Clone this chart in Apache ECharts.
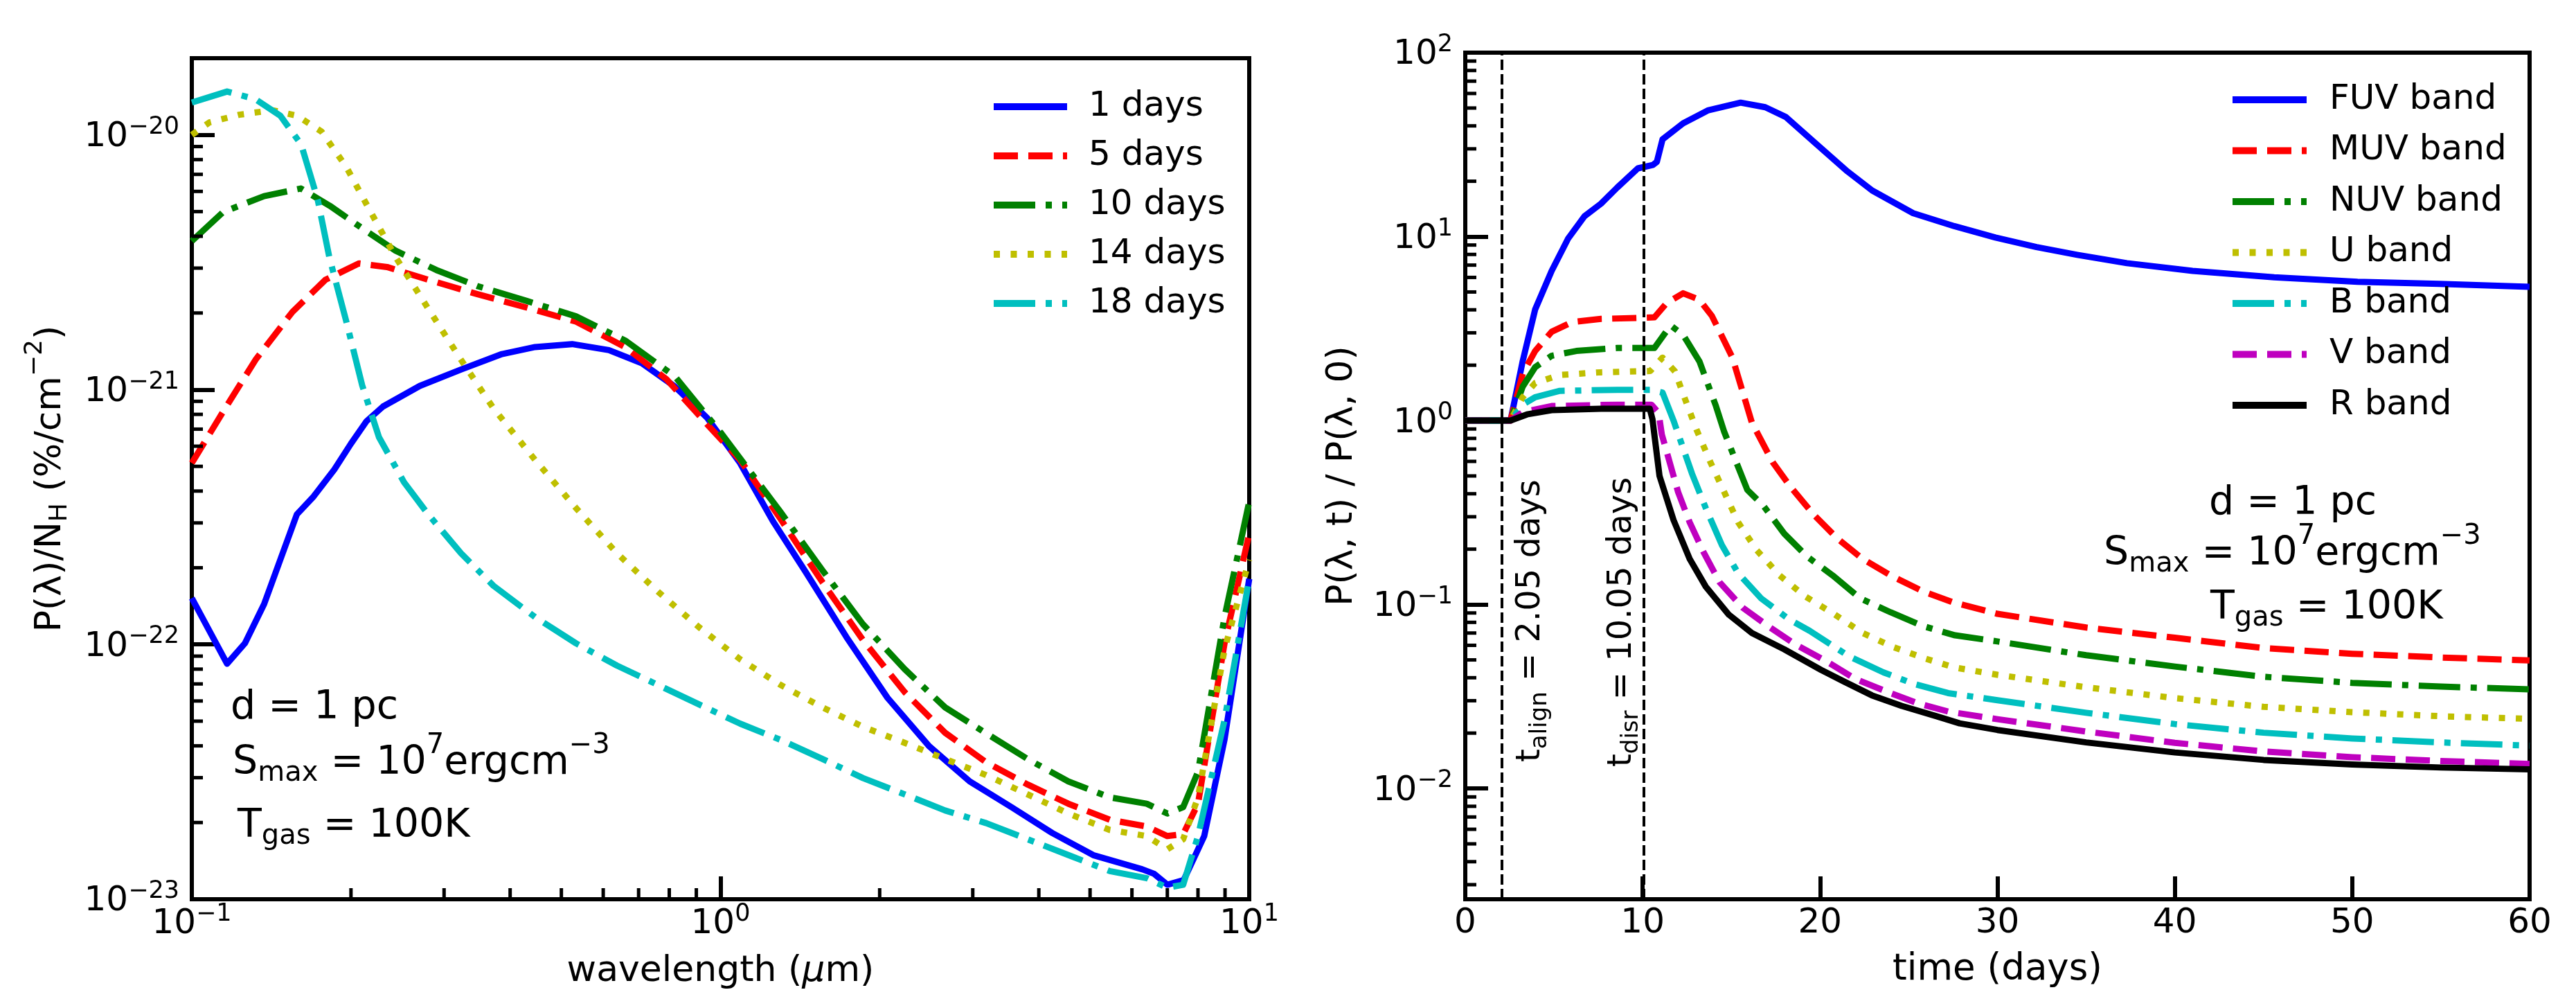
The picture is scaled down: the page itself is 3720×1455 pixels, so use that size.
<!DOCTYPE html>
<html>
<head>
<meta charset="utf-8">
<script src="https://cdn.jsdelivr.net/npm/echarts@6/dist/echarts.min.js"></script>
<style>
  html, body { margin: 0; padding: 0; background: #fff; }
  #main { width: 3720px; height: 1455px; }
</style>
</head>
<body>
<div id="main"></div>
<script>
// ---- left panel: P(lambda)/N_H (%/cm^-2) vs wavelength (um) ----
var wl1 = [0.1, 0.1166, 0.126, 0.137, 0.147, 0.158, 0.170, 0.186, 0.2, 0.214, 0.23, 0.27, 0.323, 0.386, 0.446, 0.524, 0.615, 0.71, 0.819, 0.944, 1.089, 1.256, 1.45, 1.73, 2.07, 2.48, 2.96, 3.55, 4.24, 5.07, 6.28, 6.6, 7.0, 7.52, 8.22, 8.98, 10];
var p1 = [1.52e-22, 8.4e-23, 1.01e-22, 1.44e-22, 2.15e-22, 3.24e-22, 3.81e-22, 4.86e-22, 6.14e-22, 7.52e-22, 8.59e-22, 1.035e-21, 1.2e-21, 1.38e-21, 1.47e-21, 1.51e-21, 1.43e-21, 1.27e-21, 1.03e-21, 7.74e-22, 5.15e-22, 3.05e-22, 1.92e-22, 1.07e-22, 6.17e-23, 3.99e-23, 2.9e-23, 2.3e-23, 1.82e-23, 1.49e-23, 1.31e-23, 1.26e-23, 1.14e-23, 1.19e-23, 1.77e-23, 4.23e-23, 1.81e-22];

var wl5 = [0.1, 0.1146, 0.132, 0.155, 0.179, 0.207, 0.234, 0.28, 0.347, 0.43, 0.533, 0.66, 0.79, 0.944, 1.089, 1.3, 1.56, 1.86, 2.23, 2.66, 3.18, 3.81, 4.55, 5.45, 6.4, 7.0, 7.5, 8.0, 8.98, 10];
var p5 = [5.15e-22, 8.2e-22, 1.31e-21, 2.02e-21, 2.7e-21, 3.13e-21, 3.03e-21, 2.7e-21, 2.37e-21, 2.1e-21, 1.85e-21, 1.47e-21, 1.1e-21, 7.3e-22, 5.3e-22, 3.1e-22, 1.75e-22, 1.04e-22, 6.5e-23, 4.5e-23, 3.45e-23, 2.82e-23, 2.37e-23, 2.05e-23, 1.93e-23, 1.77e-23, 1.8e-23, 2.37e-23, 1.01e-22, 2.72e-22];

var wl10 = [0.1, 0.1146, 0.137, 0.1608, 0.1824, 0.21, 0.243, 0.29, 0.347, 0.43, 0.533, 0.66, 0.819, 1.0, 1.3, 1.56, 1.86, 2.23, 2.66, 3.18, 3.81, 4.55, 5.45, 6.4, 7.0, 7.5, 8.0, 8.98, 10];
var p10 = [3.83e-21, 4.98e-21, 5.75e-21, 6.16e-21, 5.27e-21, 4.3e-21, 3.51e-21, 2.95e-21, 2.55e-21, 2.23e-21, 1.94e-21, 1.56e-21, 1.13e-21, 6.8e-22, 3.3e-22, 1.95e-22, 1.2e-22, 8.0e-23, 5.66e-23, 4.48e-23, 3.55e-23, 2.9e-23, 2.51e-23, 2.37e-23, 2.17e-23, 2.3e-23, 3.16e-23, 1.28e-22, 3.63e-22];

var wl14 = [0.1, 0.108, 0.123, 0.142, 0.158, 0.176, 0.196, 0.218, 0.243, 0.28, 0.323, 0.372, 0.446, 0.533, 0.637, 0.762, 0.91, 1.089, 1.3, 1.56, 1.86, 2.23, 2.66, 3.18, 3.81, 4.55, 5.45, 6.4, 7.0, 7.5, 8.0, 8.98, 10];
var p14 = [1.0e-20, 1.12e-20, 1.2e-20, 1.25e-20, 1.19e-20, 1.03e-20, 7.48e-21, 4.98e-21, 3.31e-21, 2.08e-21, 1.31e-21, 8.45e-22, 5.3e-22, 3.43e-22, 2.28e-22, 1.61e-22, 1.17e-22, 8.75e-23, 6.93e-23, 5.66e-23, 4.75e-23, 4.11e-23, 3.55e-23, 3.07e-23, 2.58e-23, 2.17e-23, 1.87e-23, 1.77e-23, 1.57e-23, 1.72e-23, 2.51e-23, 9.55e-23, 2.15e-22];

var wl18 = [0.1, 0.1166, 0.132, 0.147, 0.161, 0.173, 0.182, 0.196, 0.21, 0.226, 0.252, 0.28, 0.323, 0.372, 0.446, 0.533, 0.637, 0.762, 0.91, 1.089, 1.3, 1.56, 1.86, 2.23, 2.66, 3.18, 3.81, 4.55, 5.45, 6.4, 7.0, 7.5, 8.0, 8.98, 10];
var p18 = [1.34e-20, 1.48e-20, 1.38e-20, 1.19e-20, 9.17e-21, 5.58e-21, 3.31e-21, 1.85e-21, 1.04e-21, 6.5e-22, 4.33e-22, 3.24e-22, 2.28e-22, 1.7e-22, 1.28e-22, 1.01e-22, 8.26e-23, 6.93e-23, 5.82e-23, 4.89e-23, 4.22e-23, 3.55e-23, 2.99e-23, 2.58e-23, 2.23e-23, 1.99e-23, 1.72e-23, 1.49e-23, 1.29e-23, 1.21e-23, 1.11e-23, 1.14e-23, 1.77e-23, 5.04e-23, 1.81e-22];

// ---- right panel: P(lambda,t)/P(lambda,0) vs time (days) ----
var tFUV = [0, 2.55, 3.24, 3.94, 4.87, 5.79, 6.72, 7.65, 8.57, 9.73, 10.57, 10.8, 11.12, 12.28, 13.67, 15.52, 16.91, 18.07, 19.69, 21.55, 22.94, 25.25, 27.57, 29.89, 32.2, 34.5, 37.3, 41.0, 45.6, 50.3, 54.9, 60];
var vFUV = [1, 1, 2.11, 4.02, 6.51, 9.73, 12.9, 15.1, 18.5, 23.5, 24.5, 25.5, 33.8, 41.3, 48.5, 53.5, 50.5, 44.7, 32.5, 22.6, 17.8, 13.4, 11.4, 9.89, 8.77, 7.96, 7.17, 6.51, 6.01, 5.68, 5.54, 5.33];

var tMUV = [0, 2.55, 3.24, 3.94, 4.87, 6.02, 7.65, 9.96, 10.66, 11.35, 12.28, 13.2, 13.9, 15.06, 16.16, 17.33, 18.37, 19.67, 20.97, 22.4, 23.97, 25.79, 27.48, 30, 35, 40, 45, 50, 55, 60];
var vMUV = [1, 1, 1.8, 2.39, 3.04, 3.43, 3.57, 3.62, 3.64, 4.35, 4.92, 4.54, 3.71, 2.2, 0.973, 0.594, 0.432, 0.306, 0.229, 0.177, 0.144, 0.118, 0.103, 0.089, 0.075, 0.066, 0.058, 0.054, 0.0515, 0.0497];

var tNUV = [0, 2.55, 3.24, 3.94, 4.87, 6.26, 8.57, 10.66, 11.58, 12.28, 13.2, 14.13, 14.6, 15.9, 16.81, 17.98, 19.28, 20.71, 22.27, 23.97, 25.79, 27.61, 30, 35, 40, 45, 50, 55, 60];
var vNUV = [1, 1, 1.53, 1.95, 2.25, 2.39, 2.48, 2.48, 3.29, 2.92, 2.1, 1.2, 0.867, 0.42, 0.344, 0.243, 0.182, 0.144, 0.108, 0.0908, 0.0764, 0.068, 0.063, 0.053, 0.046, 0.0405, 0.0375, 0.0358, 0.0346];

var tU = [0, 2.55, 3.24, 3.94, 5.33, 7.65, 10.43, 11.12, 11.82, 12.4, 13.04, 13.82, 14.6, 15.38, 16.42, 17.72, 19.15, 20.84, 22.4, 24.09, 25.92, 27.61, 30, 35, 40, 45, 50, 55, 60];
var vU = [1, 1, 1.34, 1.6, 1.77, 1.83, 1.86, 2.2, 1.85, 1.3, 0.891, 0.594, 0.408, 0.28, 0.198, 0.144, 0.111, 0.0882, 0.07, 0.0589, 0.0509, 0.0454, 0.0415, 0.0355, 0.031, 0.0278, 0.026, 0.0247, 0.0239];

var tB = [0, 2.55, 3.24, 3.94, 5.33, 8.57, 10.43, 11.12, 11.74, 12.78, 13.56, 14.47, 15.38, 16.68, 18.24, 19.41, 21.62, 23.57, 25.27, 27.22, 30, 35, 40, 45, 50, 55, 60];
var vB = [1, 1, 1.22, 1.34, 1.45, 1.47, 1.47, 1.42, 1.0, 0.515, 0.334, 0.21, 0.148, 0.108, 0.0832, 0.072, 0.0524, 0.0428, 0.0371, 0.033, 0.0302, 0.0258, 0.0224, 0.0201, 0.0187, 0.0178, 0.0171];

var tV = [0, 2.55, 3.24, 4.87, 8.57, 10.5, 10.9, 11.08, 12.0, 12.65, 13.43, 14.34, 15.64, 17.07, 18.63, 20.32, 22.01, 23.97, 25.53, 27.22, 30, 35, 40, 45, 50, 55, 60];
var vV = [1, 1, 1.11, 1.2, 1.22, 1.22, 1.1, 0.84, 0.408, 0.28, 0.193, 0.132, 0.0961, 0.0764, 0.0605, 0.0494, 0.0393, 0.033, 0.029, 0.0262, 0.0238, 0.0204, 0.0177, 0.0159, 0.0148, 0.0141, 0.0136];

var tR = [0, 2.55, 3.48, 4.87, 7.65, 10.4, 10.55, 10.95, 11.74, 12.65, 13.56, 14.86, 16.16, 17.98, 20.06, 21.36, 22.92, 24.61, 26.57, 27.87, 30, 35, 40, 45, 50, 55, 60];
var vR = [1, 1, 1.08, 1.14, 1.16, 1.16, 1.02, 0.5, 0.288, 0.177, 0.125, 0.088, 0.07, 0.0571, 0.0441, 0.0381, 0.0321, 0.0281, 0.0247, 0.0226, 0.0208, 0.0178, 0.0157, 0.0143, 0.0135, 0.013, 0.0127];

var tAlign = 2.05, tDisr = 10.05;

var daysNames = ['1 days', '5 days', '10 days', '14 days', '18 days'];
var bandNames = ['FUV band', 'MUV band', 'NUV band', 'U band', 'B band', 'V band', 'R band'];

// minor tick positions (mantissas 2..9 in each decade)
var mant = [2, 3, 4, 5, 6, 7, 8, 9];
var minorWl = [], minorPL = [], minorPR = [];
[-1, 0].forEach(function (k) { mant.forEach(function (m) { minorWl.push(m * Math.pow(10, k)); }); });
[0, 1, 2].forEach(function (k) { mant.forEach(function (m) { minorPL.push(m * Math.pow(10, k)); }); });
[-3, -2, -1, 0, 1].forEach(function (k) { mant.forEach(function (m) { var v = m * Math.pow(10, k); if (v > 0.0025) minorPR.push(v); }); });

// left y values are plotted in units of 1e-23 (log axis rounds tiny values)
var P_UNIT = 1e-23;
var FONT = 'DejaVu Sans';
var DASH = [35, 15], DASHDOT = [60, 15, 9, 15], DOT = [9, 15.5];
var LW = 9;

function pairs(xs, ys, k) {
  return xs.map(function (x, i) { return [x, ys[i] * (k || 1)]; });
}

function powLabel(offset) {
  return function (v) {
    var e = Math.log10(v);
    var k = Math.round(e);
    if (Math.abs(e - k) > 1e-6) return '';
    k += offset;
    return '{b|10}{s|' + (k < 0 ? '\u2212' + (-k) : k) + '}';
  };
}

var tickRich = {
  b: { fontSize: 50, lineHeight: 50, verticalAlign: 'bottom', fontFamily: FONT, color: '#000' },
  s: { fontSize: 35, lineHeight: 57, verticalAlign: 'top', padding: [0, 0, 22, 0], fontFamily: FONT, color: '#000' }
};

// token lineHeight = font size + padding, so the padding really grows the line
function nameRich(fs, small) {
  var pSub = Math.round(small * 0.25), pSup = Math.round(small * 1.25);
  return {
    n: { fontSize: fs, lineHeight: fs, verticalAlign: 'middle', fontFamily: FONT, color: '#000' },
    i: { fontSize: fs, lineHeight: fs, verticalAlign: 'middle', fontStyle: 'italic', fontFamily: FONT, color: '#000' },
    sub: { fontSize: small, lineHeight: small + pSub, verticalAlign: 'bottom', padding: [0, 0, pSub, 0], fontFamily: FONT, color: '#000' },
    sup: { fontSize: small, lineHeight: small + pSup, verticalAlign: 'top', padding: [0, 0, pSup, 0], fontFamily: FONT, color: '#000' }
  };
}

function axisCommon(extra) {
  var a = {
    axisLine: { show: true, lineStyle: { color: '#000', width: 6 } },
    axisTick: { show: true, inside: true, length: 33, lineStyle: { color: '#000', width: 6 } },
    splitLine: { show: false },
    nameLocation: 'middle',
    nameMoveOverlap: false
  };
  for (var k in extra) a[k] = extra[k];
  return a;
}

function tickSeries(xi, yi, pts, dir) {
  return {
    type: 'custom', xAxisIndex: xi, yAxisIndex: yi, data: pts, silent: true, clip: false, z: 5,
    renderItem: function (params, api) {
      var p = api.coord([api.value(0), api.value(1)]);
      var s = dir === 'x'
        ? { x1: p[0], y1: p[1], x2: p[0], y2: p[1] - 16 }
        : { x1: p[0], y1: p[1], x2: p[0] + 16, y2: p[1] };
      return { type: 'line', shape: s, style: { stroke: '#000', lineWidth: 5 } };
    }
  };
}

function lineSeries(name, xi, xs, ys, color, type, k) {
  return {
    name: name, type: 'line', xAxisIndex: xi, yAxisIndex: xi,
    data: pairs(xs, ys, k), symbol: 'none', smooth: false,
    lineStyle: { color: color, width: LW, type: type, cap: 'butt', join: 'round' },
    itemStyle: { color: color }
  };
}

var annRich = nameRich(57, 40);
var rotRich = {
  n: { fontSize: 48, lineHeight: 48, verticalAlign: 'top', fontFamily: FONT, color: '#000' },
  sub: { fontSize: 34, lineHeight: 54, verticalAlign: 'bottom', padding: [20, 0, 0, 0], fontFamily: FONT, color: '#000' }
};

function annText(x, y, text) {
  return { type: 'text', x: x, y: y, z: 10,
    style: { text: text, rich: annRich, fontSize: 57, fontFamily: FONT, fill: '#000', align: 'left', verticalAlign: 'middle' } };
}
function rotText(x, y, text) {
  return { type: 'text', x: x, y: y, rotation: Math.PI / 2, z: 10,
    style: { text: text, rich: rotRich, fontSize: 48, fontFamily: FONT, fill: '#000', align: 'left', verticalAlign: 'top' } };
}

var legendCommon = {
  orient: 'vertical', itemHeight: 50, selectedMode: false,
  itemStyle: { opacity: 0 },
  lineStyle: { width: 10 }
};
function legendOf(names, left, top, width, gap, pad) {
  var l = { data: names, left: left, top: top, itemWidth: width, itemGap: gap,
    textStyle: { fontSize: 50, color: '#000', fontFamily: FONT, padding: [0, 0, 0, pad] } };
  for (var k in legendCommon) l[k] = legendCommon[k];
  return l;
}

var chart = echarts.init(document.getElementById('main'));
var k = 1 / P_UNIT;

var option = {
  animation: false,
  backgroundColor: '#fff',
  textStyle: { fontFamily: FONT, color: '#000' },
  grid: [
    { left: 277, top: 84, width: 1527, height: 1214, show: true, borderColor: '#000', borderWidth: 6, backgroundColor: 'transparent' },
    { left: 2116, top: 76, width: 1537, height: 1222, show: true, borderColor: '#000', borderWidth: 6, backgroundColor: 'transparent' }
  ],
  xAxis: [
    axisCommon({
      gridIndex: 0, type: 'log', logBase: 10, min: 0.1, max: 10,
      axisLabel: { formatter: powLabel(0), rich: tickRich, margin: 4 },
      name: '{n|wavelength (}{i|\u03bc}{n|m)}', nameGap: 78,
      nameTextStyle: { fontSize: 52, rich: nameRich(52, 36) }
    }),
    axisCommon({
      gridIndex: 1, type: 'value', min: 0, max: 60, interval: 10,
      axisLabel: { fontSize: 50, color: '#000', margin: 10, fontFamily: FONT },
      name: 'time (days)', nameGap: 76,
      nameTextStyle: { fontSize: 53, color: '#000', fontFamily: FONT }
    })
  ],
  yAxis: [
    axisCommon({
      gridIndex: 0, type: 'log', logBase: 10, min: 1, max: 2000,
      axisLabel: { formatter: powLabel(-23), rich: tickRich, margin: 18, showMaxLabel: false },
      name: '{n|P(\u03bb)/N}{sub|H}{n| (%/cm}{sup|\u22122}{n|)}', nameGap: 163, nameRotate: 90,
      nameTextStyle: { fontSize: 52, rich: nameRich(52, 36) }
    }),
    axisCommon({
      gridIndex: 1, type: 'log', logBase: 10, min: 0.0025, max: 100,
      axisLabel: { formatter: powLabel(0), rich: tickRich, margin: 18, showMinLabel: false },
      name: 'P(\u03bb, t) / P(\u03bb, 0)', nameGap: 152, nameRotate: 90,
      nameTextStyle: { fontSize: 52, color: '#000', fontFamily: FONT }
    })
  ],
  legend: [
    legendOf(daysNames, 1425, 124, 106, 21, 26),
    legendOf(bandNames, 3214, 114, 107, 23.5, 28)
  ],
  series: [
    lineSeries('1 days', 0, wl1, p1, '#0000ff', 'solid', k),
    lineSeries('5 days', 0, wl5, p5, '#ff0000', DASH, k),
    lineSeries('10 days', 0, wl10, p10, '#008000', DASHDOT, k),
    lineSeries('14 days', 0, wl14, p14, '#bfbf00', DOT, k),
    lineSeries('18 days', 0, wl18, p18, '#00bfbf', DASHDOT, k),
    lineSeries('FUV band', 1, tFUV, vFUV, '#0000ff', 'solid'),
    lineSeries('MUV band', 1, tMUV, vMUV, '#ff0000', DASH),
    lineSeries('NUV band', 1, tNUV, vNUV, '#008000', DASHDOT),
    lineSeries('U band', 1, tU, vU, '#bfbf00', DOT),
    lineSeries('B band', 1, tB, vB, '#00bfbf', DASHDOT),
    lineSeries('V band', 1, tV, vV, '#bf00bf', DASH),
    (function () {
      var s = lineSeries('R band', 1, tR, vR, '#000000', 'solid');
      s.markLine = {
        symbol: ['none', 'none'], silent: true, label: { show: false },
        lineStyle: { color: '#000', width: 4, type: [15, 6] },
        data: [{ xAxis: tAlign }, { xAxis: tDisr }]
      };
      return s;
    })(),
    tickSeries(0, 0, minorWl.map(function (v) { return [v, 1]; }), 'x'),
    tickSeries(0, 0, minorPL.map(function (v) { return [0.1, v]; }), 'y'),
    tickSeries(1, 1, minorPR.map(function (v) { return [0, v]; }), 'y')
  ],
  graphic: [
    annText(333, 1022, '{n|d = 1 pc}'),
    annText(336, 1102, '{n|S}{sub|max}{n| = 10}{sup|7}{n|ergcm}{sup|\u22123}'),
    annText(343, 1193, '{n|T}{sub|gas}{n| = 100K}{sup| }'),
    annText(3190, 727, '{n|d = 1 pc}'),
    annText(3038, 800, '{n|S}{sub|max}{n| = 10}{sup|7}{n|ergcm}{sup|\u22123}'),
    annText(3192, 878, '{n|T}{sub|gas}{n| = 100K}{sup| }'),
    rotText(2187, 1100, '{n|t}{sub|align}{n| = 2.05 days}'),
    rotText(2319, 1107, '{n|t}{sub|disr}{n| = 10.05 days}')
  ]
};
chart.setOption(option);
</script>
</body>
</html>
